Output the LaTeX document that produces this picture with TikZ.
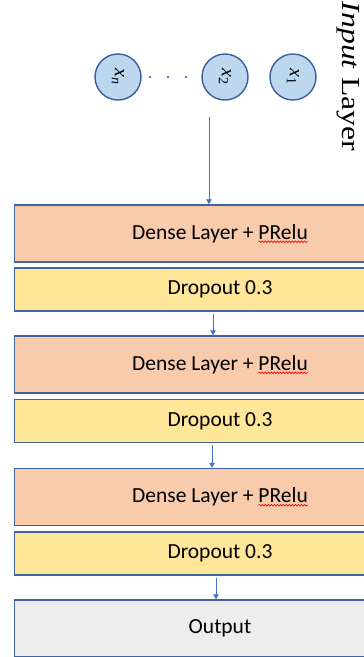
\documentclass[tikz,border=0pt]{standalone}
\usepackage{fontspec}
\setmainfont{Liberation Serif}
\newfontfamily\calibri{Carlito}
\usetikzlibrary{arrows.meta,decorations.pathmorphing}

\definecolor{boxline}{HTML}{41649E}
\definecolor{circline}{HTML}{3A5E9C}
\definecolor{denseorange}{HTML}{F8CBAD}
\definecolor{dropyellow}{HTML}{FFE699}
\definecolor{outgray}{HTML}{EDEDED}
\definecolor{inblue}{HTML}{BDD7EE}
\definecolor{arrowblue}{HTML}{4472C4}

\newcommand\layerfont{\calibri\fontsize{21.5}{24}\selectfont}
\newlength\prefw
\newlength\wordw

\begin{document}
\settowidth\prefw{\layerfont Dense Layer + }%
\settowidth\wordw{\layerfont PRelu}%
\begin{tikzpicture}[x=1pt,y=-1pt,
        layer/.style={draw=boxline,line width=1.4pt,minimum width=411pt,inner sep=0pt,font=\layerfont},
        dense/.style={layer,fill=denseorange,minimum height=57pt},
        drop/.style={layer,fill=dropyellow,minimum height=43pt},
        inp/.style={circle,draw=circline,fill=inblue,line width=1.4pt,minimum size=46pt,
            inner sep=0pt,rotate=-90,font=\fontsize{20}{20}\selectfont},
        flow/.style={draw=arrowblue,line width=0.8pt,-{Triangle[length=5pt,width=5.5pt]}},
        spell/.style={draw=red,line width=0.6pt,decorate,decoration={snake,amplitude=0.8pt,segment length=3pt}}]
                \useasboundingbox (0,0) rectangle (364,657);

                % input layer
                \node [rotate=-90,xscale=1.22,font=\fontsize{26}{26}\selectfont] (title) at (348.5,76.5) {\textit{Input} Layer};
                \foreach \nm/\px/\lbl in {xn/118/\textit{n}, x2/225/2, x1/293/1} {
                    \node [inp] (\nm) at (\px,77) {\textit{x}\textsubscript{\lbl}};
                }
                \foreach \px in {150,168,186} {
                    \fill [arrowblue] (\px,77) circle (1.4pt);
                }

                % layers
                \node [dense] (dense1) at (220,233.5) {Dense Layer + PRelu};
                \node [drop] (drop1) at (220,289.5) {Dropout 0.3};
                \node [dense] (dense2) at (220,364.5) {Dense Layer + PRelu};
                \node [drop] (drop2) at (220,421) {Dropout 0.3};
                \node [dense] (dense3) at (220,497) {Dense Layer + PRelu};
                \node [drop] (drop3) at (220,553.5) {Dropout 0.3};
                \node [layer,fill=outgray,minimum height=57pt] (out) at (220,628.5) {Output};

                % spell check marks
                \foreach \lay in {dense1,dense2,dense3} {
                    \draw [spell] ([xshift=\prefw,yshift=-2.5pt]\lay.base west -| \lay.text) -- ++(\wordw,0pt);
                }

                % arrows
                \coordinate (feed) at (209,117);
                \draw [flow] (feed) -- (feed |- dense1.north);
                \foreach \a/\b/\s in {drop1/dense2/-7, drop2/dense3/-8, drop3/out/-4} {
                    \draw [flow,shorten <=2pt] ([xshift=\s]\a.south) -- ([xshift=\s]\b.north);
                }
            \end{tikzpicture}
\end{document}
